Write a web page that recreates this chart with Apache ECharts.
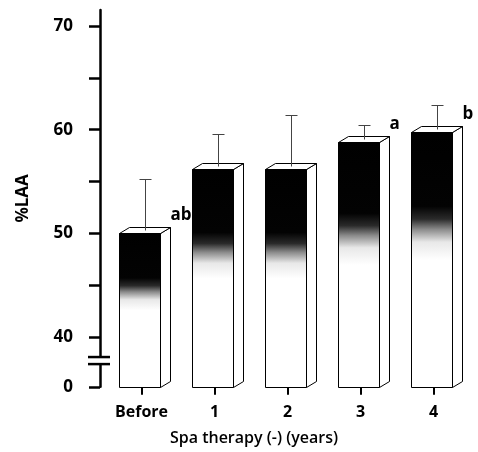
<!DOCTYPE html>
<html>
<head>
<meta charset="utf-8">
<script src="https://cdn.jsdelivr.net/npm/echarts@6/dist/echarts.min.js"></script>
<style>html,body{margin:0;padding:0;background:#fff}#c{width:478px;height:452px}</style>
</head>
<body>
<div id="c"></div>
<script>
// ---- data ----
const categories = ['Before', '1', '2', '3', '4'];
const meanLAA = [50.0, 56.2, 56.2, 58.8, 59.8];
const upperLAA = [55.2, 59.6, 61.4, 60.5, 62.4];   // mean + SD
const sigLetters = ['ab', '', '', 'a', 'b'];
const yTickValues = [40, 45, 50, 55, 60, 65, 70];
const yLabelValues = [40, 50, 60, 70];
const baseLabel = '0';

// ---- axis layout constants ----
const Y_MIN = 35.2;      // position that represents 0 below the axis break
const Y_MAX = 71.55;
const BREAK_HI = 38.07;
const BREAK_LO = 37.39;
const FONT = '"Open Sans", Lato, sans-serif';

const chart = echarts.init(document.getElementById('c'));

function renderBar(params, api) {
  const i = api.value(0), v = api.value(1), up = api.value(2);
  const band = api.size([1, 0])[0];
  const top = api.coord([i, v]);
  const base = api.coord([i, Y_MIN]);
  const fw = Math.round(band * 0.562);
  const d = Math.round(band * 0.137);
  const dy = 6;
  const x0 = Math.round(top[0] - band * 0.315) + 0.5;
  const x1 = x0 + fw;
  const yT = Math.round(top[1]) + 0.5, yB = Math.round(base[1]) + 0.5;
  const cx = Math.round(x0 + fw / 2 + d / 2) + 0.5;
  const yUp = Math.round(api.coord([i, up])[1]) + 0.5;
  const stroke = { stroke: '#000', lineWidth: 1 };
  const children = [
    { type: 'polygon', shape: { points: [[x1, yT], [x1 + d, yT - dy], [x1 + d, yB - dy], [x1, yB]] },
      style: Object.assign({ fill: '#fff' }, stroke) },
    { type: 'polygon', shape: { points: [[x0, yT], [x0 + d, yT - dy], [x1 + d, yT - dy], [x1, yT]] },
      style: Object.assign({ fill: '#fff' }, stroke) },
    { type: 'rect', shape: { x: x0, y: yT, width: fw, height: yB - yT },
      style: Object.assign({
        fill: new echarts.graphic.LinearGradient(0, 0, 0, 1, [
          { offset: 0, color: '#000' },
          { offset: 0.29, color: '#030303' },
          { offset: 0.34, color: '#2a2a2a' },
          { offset: 0.38, color: '#8a8a8a' },
          { offset: 0.43, color: '#e8e8e8' },
          { offset: 0.5, color: '#fff' },
          { offset: 1, color: '#fff' }
        ])
      }, stroke) },
    { type: 'line', shape: { x1: cx, y1: yT - dy / 2, x2: cx, y2: yUp },
      style: { stroke: '#444', lineWidth: 1 } },
    { type: 'line', shape: { x1: cx - 6, y1: yUp, x2: cx + 6, y2: yUp },
      style: { stroke: '#444', lineWidth: 1 } }
  ];
  const letter = sigLetters[params.dataIndex];
  if (letter) {
    children.push({ type: 'text', style: {
      text: letter, x: x1 + d, y: yT - 10, align: 'left', verticalAlign: 'bottom',
      font: 'bold 17px ' + FONT, fill: '#000' } });
  }
  return { type: 'group', children: children };
}

function renderBreak(params, api) {
  const band = api.size([1, 0])[0];
  const ax = api.coord([0, Y_MIN])[0] - band / 2 - 5;
  const y1 = api.coord([0, BREAK_HI])[1];
  const y2 = api.coord([0, BREAK_LO])[1];
  return { type: 'group', children: [
    { type: 'rect', shape: { x: ax - 3, y: y1, width: 6, height: y2 - y1 }, style: { fill: '#fff' } },
    { type: 'line', shape: { x1: ax - 12, y1: y1, x2: ax + 10, y2: y1 }, style: { stroke: '#000', lineWidth: 2.5 } },
    { type: 'line', shape: { x1: ax - 12, y1: y2, x2: ax + 10, y2: y2 }, style: { stroke: '#000', lineWidth: 2.5 } }
  ] };
}

const option = {
  animation: false,
  backgroundColor: '#fff',
  grid: { left: 105, right: 8, top: 10, bottom: 65.2 },
  xAxis: {
    type: 'category',
    data: categories,
    axisLine: { show: false },
    axisTick: { show: true, alignWithLabel: true, length: 8, lineStyle: { color: '#000', width: 2 } },
    axisLabel: { margin: 18, color: '#000', fontFamily: FONT, fontWeight: 'bold', fontSize: 16 },
    name: 'Spa therapy (-) (years)',
    nameLocation: 'middle',
    nameGap: 44,
    nameTextStyle: { color: '#000', fontFamily: FONT, fontSize: 16, fontWeight: 600, padding: [0, 67, 0, 0] }
  },
  yAxis: {
    type: 'value',
    min: Y_MIN,
    max: Y_MAX,
    offset: 5,
    splitLine: { show: false },
    axisLine: { show: true, lineStyle: { color: '#000', width: 2.5 } },
    axisTick: { show: true, length: 11, lineStyle: { color: '#000', width: 2.5 },
      customValues: [Y_MIN].concat(yTickValues) },
    axisLabel: { margin: 27, color: '#000', fontFamily: FONT, fontWeight: 'bold', fontSize: 17,
      customValues: [Y_MIN].concat(yLabelValues),
      formatter: function (v) { return Math.abs(v - Y_MIN) < 1e-6 ? baseLabel : String(Math.round(v)); } },
    name: '%LAA',
    nameLocation: 'middle',
    nameRotate: 90,
    nameGap: 68,
    nameTextStyle: { color: '#000', fontFamily: FONT, fontWeight: 'bold', fontSize: 17 }
  },
  series: [
    {
      type: 'custom',
      clip: false,
      renderItem: renderBar,
      encode: { x: 0, y: [1, 2] },
      data: categories.map(function (c, i) { return [i, meanLAA[i], upperLAA[i]]; })
    },
    {
      type: 'custom',
      clip: false,
      renderItem: renderBreak,
      encode: { x: 0, y: 1 },
      data: [[0, Y_MIN]],
      z: 5
    }
  ]
};
chart.setOption(option);
</script>
</body>
</html>
